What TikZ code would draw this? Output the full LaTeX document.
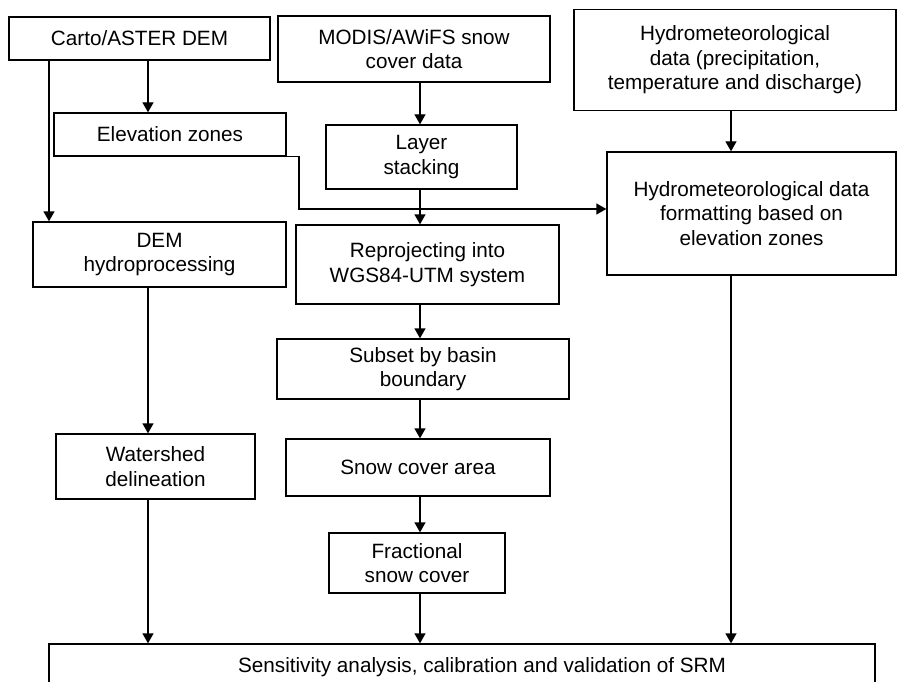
\documentclass[tikz,border=0pt]{standalone}
\usepackage{fontspec}
\setmainfont{Liberation Sans}
\usetikzlibrary{arrows.meta}
\begin{document}
\begin{tikzpicture}[x=1pt,y=-1pt,
  box/.style={draw, line width=1.3pt, align=center, inner sep=0pt,
    font=\fontsize{20.7}{24.5}\selectfont},
  arr/.style={line width=1.3pt, -{Triangle[length=10pt,width=11pt]}},
  conn/.style={line width=1.3pt}]
\useasboundingbox (0,0) rectangle (900,682);
\fill[white] (0,0) rectangle (900,682);
% nodes
\node[box, minimum width=261pt, minimum height=43pt] (carto) at (139.5,38.5) {Carto/ASTER DEM};
\node[box, minimum width=232pt, minimum height=43pt] (elev) at (170,134.5) {Elevation zones};
\node[box, minimum width=272pt, minimum height=66pt] (modis) at (414,49) {MODIS/AWiFS snow\\cover data};
\node[box, minimum width=191pt, minimum height=64pt] (layer) at (421.5,157) {Layer\\stacking};
\node[box, minimum width=322pt, minimum height=101pt] (hmet) at (735,60) {Hydrometeorological\\data (precipitation,\\temperature and discharge)};
\node[box, minimum width=289pt, minimum height=123pt] (hform) at (751.5,213.5) {Hydrometeorological data\\formatting based on\\elevation zones};
\node[box, minimum width=253pt, minimum height=65pt] (demh) at (159.5,254.5) {DEM\\hydroprocessing};
\node[box, minimum width=263pt, minimum height=79pt] (reproj) at (427.5,264.5) {Reprojecting into\\WGS84-UTM system};
\node[box, minimum width=292pt, minimum height=60pt] (subset) at (423,369) {Subset by basin\\boundary};
\node[box, minimum width=199pt, minimum height=65pt] (water) at (155.5,466.5) {Watershed\\delineation};
\node[box, minimum width=264pt, minimum height=57pt] (snow) at (418,467.5) {Snow cover area};
\node[box, minimum width=176pt, minimum height=60pt] (frac) at (417,563) {Fractional\\snow cover};
\node[box, minimum width=826pt, minimum height=46pt] (srm) at (462,667) {\hspace*{40pt}Sensitivity analysis, calibration and validation of SRM};
% helper coordinates
\coordinate (xa) at (148,0);
\coordinate (xb) at (49,0);
\coordinate (xc) at (420,0);
\coordinate (xd) at (731,0);
\coordinate (e1) at (299,209);
% connectors
\draw[arr] (carto.south -| xa) -- (elev.north -| xa);
\draw[arr] (carto.south -| xb) -- (demh.north -| xb);
\draw[arr] (modis.south -| xc) -- (layer.north -| xc);
\draw[arr] (layer.south -| xc) -- (reproj.north -| xc);
\draw[arr] (elev.south east) -| (e1) -- (e1 -| hform.west);
\draw[arr] (hmet.south -| xd) -- (hform.north -| xd);
\draw[arr] (demh.south -| xa) -- (water.north -| xa);
\draw[arr] (reproj.south -| xc) -- (subset.north -| xc);
\draw[arr] (subset.south -| xc) -- (snow.north -| xc);
\draw[arr] (snow.south -| xc) -- (frac.north -| xc);
\draw[arr] (frac.south -| xc) -- (srm.north -| xc);
\draw[arr] (water.south -| xa) -- (srm.north -| xa);
\draw[arr] (hform.south -| xd) -- (srm.north -| xd);
\end{tikzpicture}
\end{document}
